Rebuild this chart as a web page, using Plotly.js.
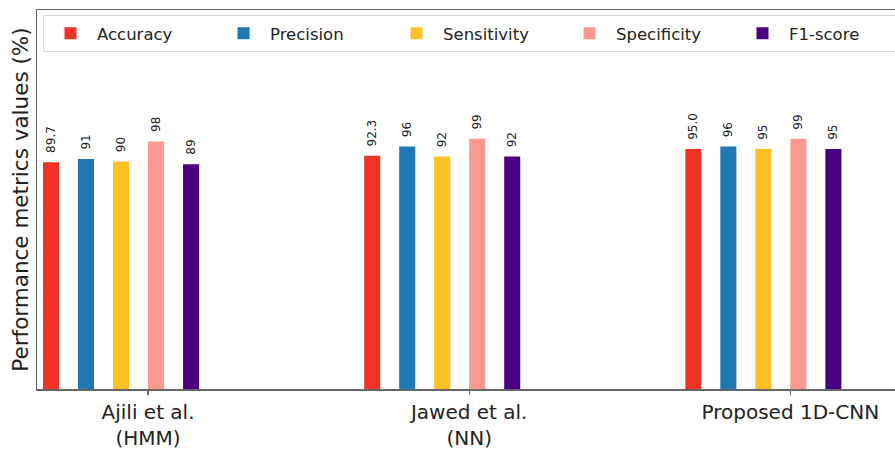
<!DOCTYPE html>
<html>
<head>
<meta charset="utf-8">
<script src="https://cdn.plot.ly/plotly-3.0.1.min.js"></script>
<style>
html, body { margin: 0; padding: 0; overflow: hidden; background: #fff; }
#chart { width: 910px; height: 449px; }
</style>
</head>
<body>
<div id="chart"></div>
<script>
// Data
const categories = ["Ajili et al.<br>(HMM)", "Jawed et al.<br>(NN)", "Proposed 1D-CNN"];
const metrics = ["Accuracy", "Precision", "Sensitivity", "Specificity", "F1-score"];
const accuracy = [89.7, 92.3, 95.0];
const precision = [91, 96, 96];
const sensitivity = [90, 92, 95];
const specificity = [98, 99, 99];
const f1score = [89, 92, 95];
const seriesValues = [accuracy, precision, sensitivity, specificity, f1score];
const labelDecimals = [1, 0, 0, 0, 0];
const colors = ["#ef3427", "#1f77b4", "#fdc124", "#f99a90", "#4b0082"];

const barWidth = 0.05;
const barPitch = 0.109;

const traces = metrics.map((name, i) => ({
  type: "bar",
  name: name,
  x: categories,
  y: seriesValues[i],
  width: barWidth,
  offset: (i - 3) * barPitch,
  marker: { color: colors[i], line: { width: 0 } },
  hoverinfo: "skip"
}));

// value labels, rotated, placed on top of each bar using the axis scales
const annotations = [];
metrics.forEach((name, i) => {
  seriesValues[i].forEach((v, k) => {
    annotations.push({
      xref: "x", yref: "y",
      x: k + (i - 3) * barPitch + barWidth / 2,
      y: v,
      text: v.toFixed(labelDecimals[i]),
      showarrow: false,
      textangle: -90,
      xanchor: "center",
      yanchor: "bottom",
      yshift: 8,
      borderpad: 0,
      font: { family: "DejaVu Sans", size: 12, color: "#222" }
    });
  });
});

const layout = {
  width: 910,
  height: 449,
  margin: { l: 37, r: 5, t: 10, b: 60 },
  paper_bgcolor: "#fff",
  plot_bgcolor: "#fff",
  barmode: "overlay",
  showlegend: true,
  annotations: annotations,
  legend: {
    orientation: "h",
    x: 0.0092, xanchor: "left",
    y: 0.9868, yanchor: "top",
    bordercolor: "#d9d9d9",
    borderwidth: 1,
    bgcolor: "#fff",
    font: { family: "DejaVu Sans", size: 16.5, color: "#222" },
    itemwidth: 43,
    entrywidth: 115,
    entrywidthmode: "pixels",
    traceorder: "normal"
  },
  xaxis: {
    type: "category",
    range: [-0.3457, 2.357],
    showline: true, linecolor: "#666", linewidth: 1.5, mirror: true,
    ticks: "outside", ticklen: 4, tickcolor: "#666", tickwidth: 1.2,
    showgrid: false, zeroline: false,
    tickfont: { family: "DejaVu Sans", size: 20, color: "#222" },
    automargin: false
  },
  yaxis: {
    range: [0, 150],
    showline: true, linecolor: "#666", linewidth: 1.5, mirror: true,
    ticks: "", showticklabels: false,
    showgrid: false, zeroline: false,
    title: { text: "Performance metrics values (%)", font: { family: "DejaVu Sans", size: 21.5, color: "#222" }, standoff: 1 },
    automargin: false
  }
};

Plotly.newPlot("chart", traces, layout, { staticPlot: true, displayModeBar: false });
</script>
</body>
</html>
